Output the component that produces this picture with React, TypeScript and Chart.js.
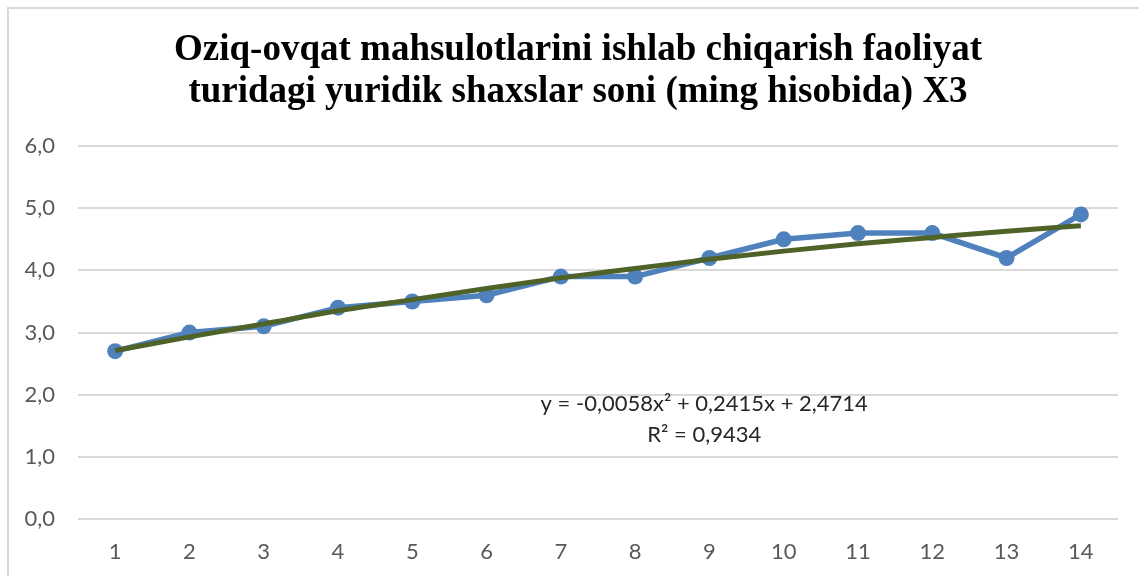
import React, { useEffect, useRef } from "react";
import { Chart, registerables } from "chart.js";

Chart.register(...registerables);

const titleLines = [
  "Oziq-ovqat mahsulotlarini ishlab chiqarish faoliyat",
  "turidagi yuridik shaxslar soni (ming hisobida) X3",
];
const categories = ["1", "2", "3", "4", "5", "6", "7", "8", "9", "10", "11", "12", "13", "14"];
const seriesValues = [2.7, 3.0, 3.1, 3.4, 3.5, 3.6, 3.9, 3.9, 4.2, 4.5, 4.6, 4.6, 4.2, 4.9];
const trendValues = [2.71, 2.93, 3.14, 3.35, 3.53, 3.71, 3.88, 4.03, 4.18, 4.31, 4.43, 4.53, 4.63, 4.72];
const equationLines = ["y = -0,0058x² + 0,2415x + 2,4714", "R² = 0,9434"];
const yMin = 0;
const yMax = 6;
const yStep = 1;

const equationPlugin = {
  id: "equationLabel",
  afterDraw(chart: any) {
    const { ctx, scales } = chart;
    const x = scales.x.getPixelForValue(7.93);
    const y1 = scales.y.getPixelForValue(1.85);
    const y2 = scales.y.getPixelForValue(1.35);
    ctx.save();
    ctx.font = "22px Lato";
    ctx.fillStyle = "#262626";
    ctx.textAlign = "center";
    ctx.textBaseline = "middle";
    ctx.fillText(equationLines[0], x, y1);
    ctx.fillText(equationLines[1], x, y2);
    ctx.restore();
  },
};

export default function App() {
  const ref = useRef<HTMLCanvasElement>(null);

  useEffect(() => {
    if (!ref.current) return;
    const chart = new Chart(ref.current, {
      type: "line",
      data: {
        labels: categories,
        datasets: [
          {
            label: "Trend",
            data: trendValues,
            borderColor: "#4f6228",
            borderWidth: 5,
            pointRadius: 0,
            tension: 0.4,
            cubicInterpolationMode: "monotone",
            fill: false,
            order: 0,
          },
          {
            label: "X3",
            data: seriesValues,
            borderColor: "#4f81bd",
            backgroundColor: "#4f81bd",
            borderWidth: 5.5,
            pointRadius: 8,
            pointBorderWidth: 0,
            pointBackgroundColor: "#4f81bd",
            tension: 0,
            fill: false,
            order: 1,
          },
        ],
      },
      options: {
        animation: false,
        responsive: false,
        maintainAspectRatio: false,
        layout: { padding: { left: 0, right: 0, top: 0, bottom: 0 } },
        plugins: {
          legend: { display: false },
          tooltip: { enabled: false },
          title: {
            display: true,
            text: titleLines,
            color: "#000000",
            font: { family: "Liberation Serif", size: 37, weight: "bold", lineHeight: 1.15 },
            padding: { top: 20, bottom: 32 },
          },
        },
        scales: {
          x: {
            offset: true,
            grid: { display: false, offset: true },
            border: { display: false },
            ticks: {
              color: "#595959",
              font: { family: "Lato", size: 22 },
              padding: 12,
              maxRotation: 0,
            },
            afterFit: (s: any) => {
              s.height = 57;
            },
          },
          y: {
            min: yMin,
            max: yMax,
            grid: { color: "#d9d9d9", lineWidth: 2, drawTicks: false },
            border: { display: false },
            ticks: {
              stepSize: yStep,
              color: "#595959",
              font: { family: "Lato", size: 22 },
              padding: 23,
              callback: (v: any) => Number(v).toFixed(1).replace(".", ","),
            },
            afterFit: (s: any) => {
              s.width = 69;
            },
          },
          yR: {
            position: "right",
            display: true,
            grid: { display: false },
            border: { display: false },
            ticks: { display: false },
            afterFit: (s: any) => {
              s.width = 29;
            },
          },
        },
      },
      plugins: [equationPlugin],
    });
    return () => chart.destroy();
  }, []);

  return (
    <div
      style={{
        position: "fixed",
        left: 7,
        top: 7,
        width: 1140,
        height: 569,
        borderLeft: "2px solid #d9d9d9",
        borderTop: "2px solid #d9d9d9",
        background: "#ffffff",
      }}
    >
      <canvas ref={ref} width={1138} height={567} style={{ display: "block", width: 1138, height: 567 }} />
    </div>
  );
}
